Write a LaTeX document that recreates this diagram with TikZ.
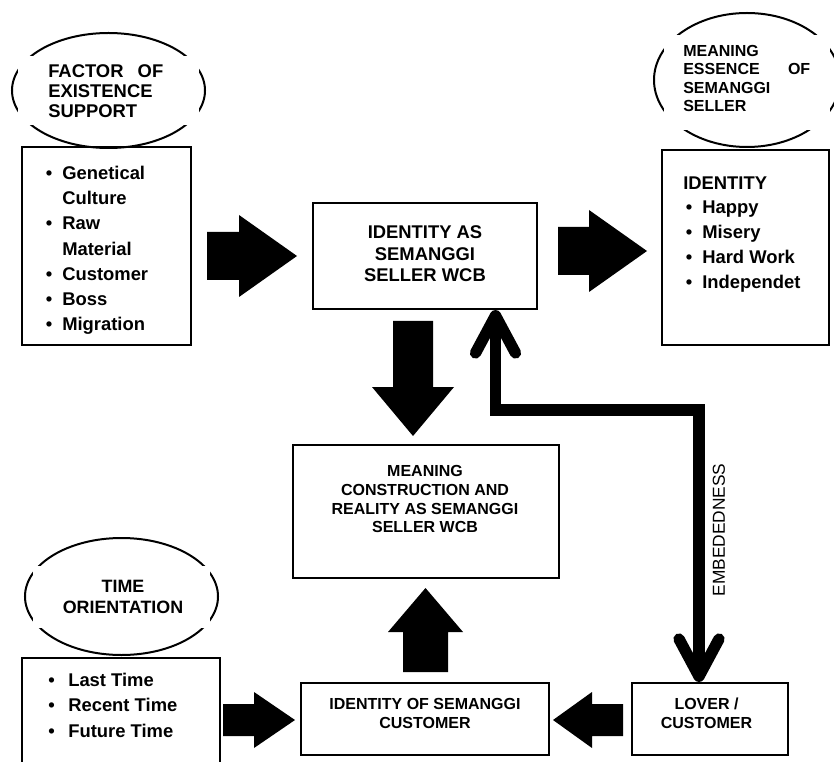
\documentclass[tikz,border=0pt]{standalone}
\usepackage{fontspec}
\setmainfont{Liberation Sans}
\usetikzlibrary{shapes.geometric,arrows.meta,fit}
\begin{document}
\begin{tikzpicture}[x=0.75pt,y=-0.75pt,
  box/.style={draw, line width=1.5pt, rectangle, inner sep=0pt},
  oval/.style={draw, line width=1.5pt, ellipse, inner sep=0pt},
  mask/.style={fill=white, draw=none},
  blk/.style={fill=black, draw=none},
  tbig/.style={font=\bfseries\fontsize{13.8pt}{16pt}\selectfont, inner sep=0pt},
  tmid/.style={font=\bfseries\fontsize{13.4pt}{16pt}\selectfont, inner sep=0pt},
  tsmall/.style={font=\bfseries\fontsize{12pt}{14pt}\selectfont, inner sep=0pt},
  tside/.style={font=\fontsize{13pt}{15pt}\selectfont, inner sep=0pt},
  emb/.style={line width=8.5pt,
    arrows={Straight Barb[length=28pt,width=30pt,line width=8.5pt,round]-Straight Barb[length=28pt,width=30pt,line width=8.5pt,round]}}
]
\useasboundingbox (0,0) rectangle (834,762);
\clip (0,0) rectangle (834,762);

% ---------- ellipses ----------
\node[oval, minimum width=144.75pt, minimum height=86.25pt] (e1) at (108.5,90.5) {};
\node[oval, minimum width=139.5pt, minimum height=100.5pt] (e2) at (747,80) {};
\node[oval, minimum width=144.75pt, minimum height=87.75pt] (e3) at (121.5,596.5) {};
\path[mask] (18,56) rectangle (199,125);
\path[mask] (664,35) rectangle (830,130);
\path[mask] (33,566) rectangle (210,628);

% ellipse texts
\node[tbig, anchor=base west] (f1) at (48,78) {\makebox[86.25pt][s]{FACTOR OF}};
\node[tbig, anchor=base west] (f2) at (48,98) {EXISTENCE};
\node[tbig, anchor=base west] (f3) at (48,118) {SUPPORT};

\node[tsmall, anchor=base west] (m1) at (683,57) {MEANING};
\node[tsmall, anchor=base west] (m2) at (683,75) {\makebox[95.25pt][s]{ESSENCE OF}};
\node[tsmall, anchor=base west] (m3) at (683,93.5) {SEMANGGI};
\node[tsmall, anchor=base west] (m4) at (683,112) {SELLER};

\node[tmid, anchor=base] (o1) at (123,592) {TIME};
\node[tmid, anchor=base] (o2) at (123,613) {ORIENTATION};

% ---------- boxes ----------
\node[box, fit={(22,147) (191,345)}] (b1) {};
\node[box, fit={(313,203) (537,309)}] (ctr) {};
\node[box, fit={(662,150) (829,345)}] (b2) {};
\node[box, fit={(293,445) (559,578)}] (mean) {};
\node[box, fit={(301,683) (549,755)}] (cust) {};
\node[box, fit={(632,683) (788,755)}] (lover) {};
\node[box, fit={(22,658) (220,780)}] (b3) {};

% left top list
\foreach \yy/\tt [count=\i] in {180/Genetical,205/Culture,230/Raw,256/Material,281/Customer,306/Boss,331/Migration}
  \node[tbig, anchor=base west] (la\i) at (62,\yy) {\tt};
\foreach \yy [count=\i] in {180,230,281,306,331}
  \node[tbig, anchor=base] (lb\i) at (49,\yy) {\textbullet};

% right top list
\node[tbig, anchor=base west] (rid) at (683,190) {IDENTITY};
\foreach \yy/\tt [count=\i] in {214/Happy,239/Misery,264/Hard Work,289/Independet}{
  \node[tbig, anchor=base west] (ra\i) at (702,\yy) {\tt};
  \node[tbig, anchor=base] (rb\i) at (689,\yy) {\textbullet};
}

% bottom left list
\foreach \yy/\tt [count=\i] in {686/Last Time,711.7/Recent Time,737.3/Future Time}{
  \node[tbig, anchor=base west] (ta\i) at (68,\yy) {\tt};
  \node[tbig, anchor=base] (tb\i) at (51.5,\yy) {\textbullet};
}

% centre texts
\node[tbig, anchor=base] (c1) at (425,239) {IDENTITY AS};
\node[tbig, anchor=base] (c2) at (425,260.5) {SEMANGGI};
\node[tbig, anchor=base] (c3) at (425,282) {SELLER WCB};

\node[tsmall, anchor=base] (n1) at (425,476) {MEANING};
\node[tsmall, anchor=base] (n2) at (425,495) {CONSTRUCTION AND};
\node[tsmall, anchor=base] (n3) at (425,514) {REALITY AS SEMANGGI};
\node[tsmall, anchor=base] (n4) at (425,532) {SELLER WCB};

\node[tsmall, anchor=base] (u1) at (425,709) {IDENTITY OF SEMANGGI};
\node[tsmall, anchor=base] (u2) at (425,728) {CUSTOMER};

\node[tsmall, anchor=base] (v1) at (706.5,709) {LOVER /};
\node[tsmall, anchor=base] (v2) at (706.5,728) {CUSTOMER};

% ---------- block arrows ----------
\fill[blk] (207,232) -- (239,232) -- (239,215) -- (297,256) -- (239,297) -- (239,280) -- (207,280) -- cycle;
\fill[blk] (558,227) -- (589,227) -- (589,210) -- (647,251) -- (589,292) -- (589,275) -- (558,275) -- cycle;
\fill[blk] (393,321) -- (433,321) -- (433,387) -- (454,387) -- (413,436) -- (372,387) -- (393,387) -- cycle;
\fill[blk] (403,672) -- (448,672) -- (448,632) -- (463,632) -- (425.5,588) -- (388,632) -- (403,632) -- cycle;
\fill[blk] (223,704) -- (254,704) -- (254,692) -- (295,720) -- (254,748) -- (254,736) -- (223,736) -- cycle;
\fill[blk] (623,704) -- (592,704) -- (592,692) -- (553,720) -- (592,748) -- (592,736) -- (623,736) -- cycle;

% ---------- embeddedness connector ----------
\coordinate (eA) at (495.5,410);
\coordinate (eB) at (699,410);
\draw[emb] (eA |- ctr.south) -- (eA) -- (eB) -- (eB |- lover.north);
\node[tside, rotate=90] (emblab) at (719,530) {EMBEDEDNESS};
\end{tikzpicture}
\end{document}
